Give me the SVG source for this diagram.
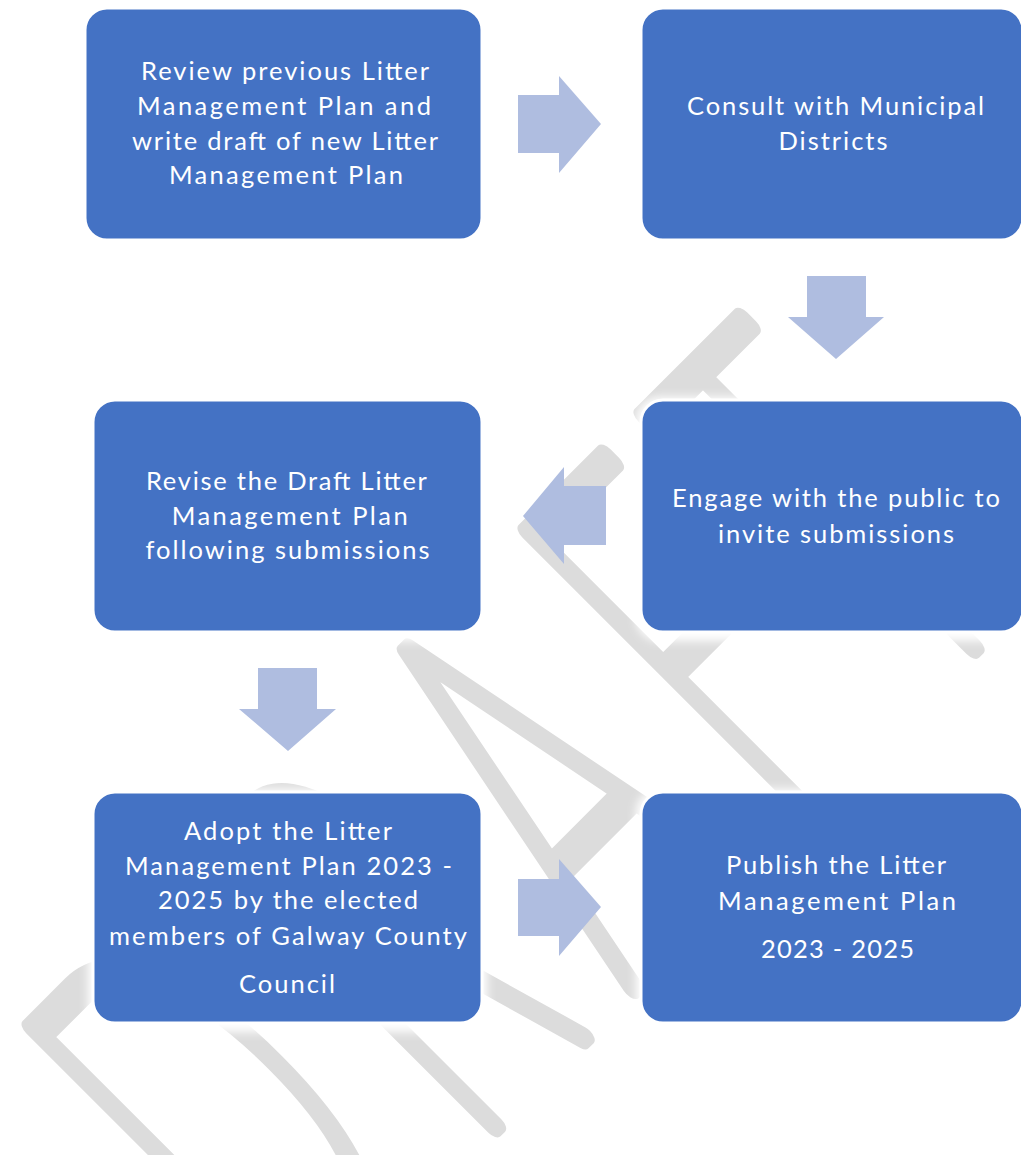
<svg xmlns="http://www.w3.org/2000/svg" width="1021" height="1155" viewBox="0 0 1021 1155">
  <defs>
    <style>
      .wm { fill: #dcdcdc; stroke: #dcdcdc; stroke-width: 23; stroke-linejoin: round; stroke-linecap: round; font-family: Inter, "Noto Sans", "Open Sans", sans-serif; font-weight: 100; font-size: 545px; text-anchor: middle; }
      .box { fill: #4472C4; stroke: #ffffff; stroke-width: 3; }
      .halo { fill: #ffffff; filter: url(#blur); }
      .arrow { fill: #AFBDE0; stroke: none; }
      .lbl { fill: #ffffff; font-family: Lato, "Liberation Sans", Arial, sans-serif; font-size: 25.5px; text-anchor: middle; }
    </style>
    <filter id="blur" x="-10%" y="-10%" width="120%" height="130%">
      <feGaussianBlur stdDeviation="5"/>
    </filter>
  </defs>
  <rect x="0" y="0" width="1021" height="1155" fill="#ffffff"/>

  <!-- watermark -->
  <g id="watermark">
    <text class="wm" vector-effect="non-scaling-stroke" transform="translate(615.3 1005.3) rotate(-45) scale(0.53 1)"><tspan x="-679" y="0">D</tspan><tspan x="-222" y="0">R</tspan><tspan x="198" y="0">A</tspan><tspan x="609" y="0">F</tspan><tspan x="955" y="0">T</tspan></text>
  </g>

  <!-- halos behind boxes -->
  <g id="halos">
    <rect class="halo" x="80" y="5" width="407" height="244" rx="24"/>
    <rect class="halo" x="636" y="5" width="395" height="244" rx="24"/>
    <rect class="halo" x="88" y="397" width="399" height="244" rx="24"/>
    <rect class="halo" x="636" y="397" width="395" height="244" rx="24"/>
    <rect class="halo" x="88" y="789" width="399" height="243" rx="24"/>
    <rect class="halo" x="636" y="789" width="395" height="243" rx="24"/>
  </g>

  <g id="connectors">
    <polygon class="arrow" points="518,95 559,95 559,76 601,124 559,173 559,153 518,153"/>
    <polygon class="arrow" points="807,276 866,276 866,317 884,317 836,359 788,317 807,317"/>
    <polygon class="arrow" points="606,486 564,486 564,467 523,516 564,564 564,545 606,545"/>
    <polygon class="arrow" points="258,668 317,668 317,709 336,709 288,751 239,709 258,709"/>
    <polygon class="arrow" points="518,879 559,879 559,859 601,907 559,956 559,936 518,936"/>
  </g>

  <g id="node-review">
    <rect class="box" x="85" y="8" width="397" height="232" rx="22"/>
    <text class="lbl" x="285" y="79.5" textLength="288">Review previous Litter</text>
    <text class="lbl" x="284" y="115" textLength="294">Management Plan and</text>
    <text class="lbl" x="285" y="149.5" textLength="306">write draft of new Litter</text>
    <text class="lbl" x="286" y="183.5" textLength="234">Management Plan</text>
  </g>

  <g id="node-consult">
    <rect class="box" x="641" y="8" width="382" height="232" rx="22"/>
    <text class="lbl" x="835.5" y="115" textLength="297">Consult with Municipal</text>
    <text class="lbl" x="833" y="150" textLength="109">Districts</text>
  </g>

  <g id="node-revise">
    <rect class="box" x="93" y="400" width="389" height="232" rx="22"/>
    <text class="lbl" x="286.4" y="490" textLength="281">Revise the Draft Litter</text>
    <text class="lbl" x="289.7" y="525" textLength="236">Management Plan</text>
    <text class="lbl" x="287.5" y="559" textLength="284">following submissions</text>
  </g>

  <g id="node-engage">
    <rect class="box" x="641" y="400" width="382" height="232" rx="22"/>
    <text class="lbl" x="836" y="507" textLength="328">Engage with the public to</text>
    <text class="lbl" x="836" y="543" textLength="236">invite submissions</text>
  </g>

  <g id="node-adopt">
    <rect class="box" x="93" y="792" width="389" height="231" rx="22"/>
    <text class="lbl" x="288" y="840" textLength="208">Adopt the Litter</text>
    <text class="lbl" x="288.5" y="875" textLength="327">Management Plan 2023 -</text>
    <text class="lbl" x="288" y="909" textLength="260">2025 by the elected</text>
    <text class="lbl" x="288" y="945" textLength="358">members of Galway County</text>
    <text class="lbl" x="287" y="993" textLength="96">Council</text>
  </g>

  <g id="node-publish">
    <rect class="box" x="641" y="792" width="382" height="231" rx="22"/>
    <text class="lbl" x="836" y="874" textLength="220">Publish the Litter</text>
    <text class="lbl" x="837" y="910" textLength="238">Management Plan</text>
    <text class="lbl" x="837.5" y="958" textLength="153">2023 - 2025</text>
  </g>
</svg>
